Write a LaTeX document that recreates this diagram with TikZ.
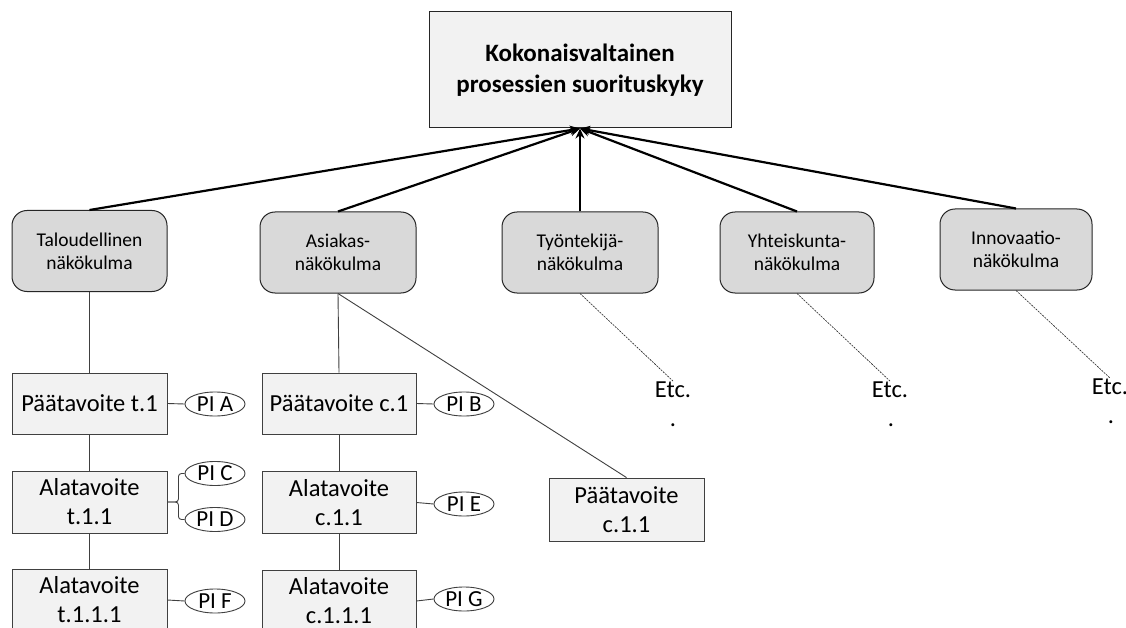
\documentclass[tikz,border=0pt]{standalone}
\usepackage{fontspec}
\setmainfont{Carlito}
\usetikzlibrary{shapes.geometric,arrows.meta}
\definecolor{boxfill}{RGB}{242,242,242}
\definecolor{perspfill}{RGB}{217,217,217}
\definecolor{edgegray}{RGB}{64,64,64}
\tikzset{
  topbox/.style={draw=black!85, line width=1pt, fill=boxfill, minimum width=302pt,
    minimum height=116pt, inner sep=0pt, align=center,
    font=\fontsize{25}{31}\selectfont\bfseries},
  persp/.style={draw=black!85, line width=1pt, fill=perspfill, rounded corners=15pt,
    minimum height=81pt, inner sep=0pt, align=center,
    font=\fontsize{19.5}{23}\selectfont},
  goal/.style={draw=edgegray, line width=0.9pt, fill=boxfill, minimum width=155pt,
    minimum height=62pt, inner sep=0pt, align=center,
    font=\fontsize{24.5}{29}\selectfont},
  pi/.style={ellipse, draw=edgegray, line width=0.9pt, fill=white, minimum width=60pt,
    minimum height=24pt, inner sep=0pt, font=\fontsize{23}{24}\selectfont},
  etc/.style={inner sep=0pt, font=\fontsize{24.5}{29}\selectfont},
  feed/.style={line width=2.2pt, -{Stealth[length=10pt,width=9pt]}},
  tie/.style={draw=edgegray, line width=0.9pt},
  hint/.style={draw=black!85, line width=0.6pt, dash pattern=on 2pt off 1pt}
}
\begin{document}
\begin{tikzpicture}[x=1pt,y=-1pt]
  \clip (0,0) rectangle (1126,628);
  \fill[white] (0,0) rectangle (1126,628);

  % overall performance
  \node[topbox] (top) at (580,70) {Kokonaisvaltainen\\prosessien suorituskyky};

  % perspectives
  \node[persp, minimum width=155pt] (talo) at (89.5,251) {Taloudellinen\\näkökulma};
  \node[persp, minimum width=156pt] (asia) at (338,252.5) {Asiakas-\\näkökulma};
  \node[persp, minimum width=156pt] (tyo) at (580,252.5) {Työntekijä-\\näkökulma};
  \node[persp, minimum width=154pt] (yht) at (797,252.5) {Yhteiskunta-\\näkökulma};
  \node[persp, minimum width=152pt] (inno) at (1016,249.5) {Innovaatio-\\näkökulma};

  \foreach \p in {talo,asia,tyo,yht,inno}
    \draw[feed] (\p.north) -- (top.south);

  % financial goals
  \node[goal, minimum height=61pt] (t1) at (89.5,403.5) {Päätavoite t.1};
  \node[goal] (t11) at (89.5,502) {Alatavoite\\t.1.1};
  \node[goal] (t111) at (89.5,600) {Alatavoite\\t.1.1.1};

  % customer goals
  \node[goal, minimum width=154pt, minimum height=61pt] (c1) at (339,403.5) {Päätavoite c.1};
  \node[goal, minimum width=154pt] (c11) at (339,502.5) {Alatavoite\\c.1.1};
  \node[goal, minimum width=154pt] (c111) at (339,601) {Alatavoite\\c.1.1.1};
  \node[goal, minimum height=63pt] (c11b) at (626.5,509.5) {Päätavoite\\c.1.1};

  % indicators
  \node[pi] (piA) at (215,404) {PI A};
  \node[pi] (piC) at (215,473.5) {PI C};
  \node[pi] (piD) at (215,519.5) {PI D};
  \node[pi] (piF) at (215,601) {PI F};
  \node[pi] (piB) at (464,404) {PI B};
  \node[pi] (piE) at (464,504) {PI E};
  \node[pi] (piG) at (464,599) {PI G};

  % tree links
  \draw[tie] (talo.south) -- (t1.north);
  \draw[tie] (t1.south) -- (t11.north);
  \draw[tie] (t11.south) -- (t111.north);
  \draw[tie] (asia.south) -- (c1.north);
  \draw[tie] (c1.south) -- (c11.north);
  \draw[tie] (c11.south) -- (c111.north);
  \draw[tie] (asia.south) -- (c11b.north);

  \draw[tie] (t1.east) -- (piA.west);
  \draw[tie, rounded corners=3pt] (t11.east) -- ++(11,0) |- (piC.west);
  \draw[tie, rounded corners=3pt] (t11.east) -- ++(11,0) |- (piD.west);
  \draw[tie] (t111.east) -- (piF.west);
  \draw[tie] (c1.east) -- (piB.west);
  \draw[tie] (c11.east) -- (piE.west);
  \draw[tie] (c111.east) -- (piG.west);

  % open branches
  \node[etc, anchor=base] (etcA) at (673,397) {Etc.};
  \node[etc, anchor=base] (dotA) at (673,426) {.};
  \node[etc, anchor=base] (etcB) at (890,397) {Etc.};
  \node[etc, anchor=base] (dotB) at (891,426) {.};
  \node[etc, anchor=base] (etcC) at (1110,394) {Etc.};
  \node[etc, anchor=base] (dotC) at (1111,423) {.};

  \draw[hint] (tyo.south) -- (etcA.north);
  \draw[hint] (yht.south) -- (etcB.north);
  \draw[hint] (inno.south) -- (etcC.north);
\end{tikzpicture}
\end{document}
